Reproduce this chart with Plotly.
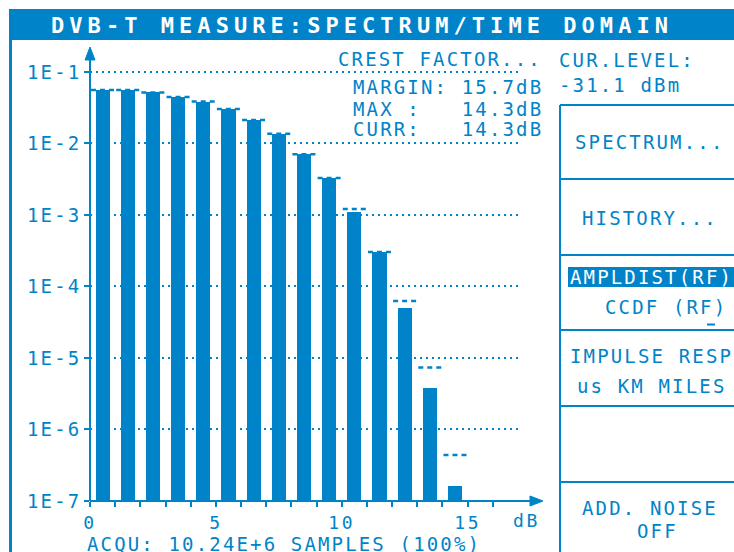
import math
import plotly.graph_objects as go

# ---- measurement data -------------------------------------------------------
# CCDF of the RF signal, one bin per dB of crest level (bin lower edge in dB)
bin_db = list(range(15))
ccdf_curr = [5.5e-2, 5.5e-2, 5.1e-2, 4.4e-2, 3.8e-2, 3.0e-2, 2.1e-2, 1.35e-2,
             7.0e-3, 3.25e-3, 1.1e-3, 3.0e-4, 5.0e-5, 3.8e-6, 1.6e-7]
# max-hold level per bin
ccdf_max = [5.5e-2, 5.5e-2, 5.1e-2, 4.4e-2, 3.8e-2, 3.0e-2, 2.1e-2, 1.35e-2,
            7.0e-3, 3.25e-3, 1.2e-3, 3.0e-4, 6.2e-5, 7.3e-6, 4.4e-7]

decade_vals = [1e-7, 1e-6, 1e-5, 1e-4, 1e-3, 1e-2, 1e-1]
decade_labels = ["1E-7", "1E-6", "1E-5", "1E-4", "1E-3", "1E-2", "1E-1"]
x_tick_vals = list(range(17))
x_tick_labels = {0: "0", 5: "5", 10: "10", 15: "15"}

margin_db = 15.7
max_db = 14.3
curr_db = 14.3
cur_level_dbm = -31.1
samples = "10.24E+6"
acq_pct = 100

# ---- screen geometry (pixels) ----------------------------------------------
FIG_W, FIG_H = 734, 552
L, R, T, B = 90, 518, 48, 501
PW, PH = R - L, B - T
DECADE_PX = 71.58
Y_TOP = -7 + PH / DECADE_PX

BLUE = "#0083C8"
FONT = "DejaVu Sans Mono"


def px(x):
    return (x - L) / PW


def py(y):
    return (B - y) / PH


fig = go.Figure()

# CCDF bars
fig.add_trace(go.Bar(
    x=[b + 0.5 for b in bin_db], y=ccdf_curr, width=0.56,
    marker=dict(color=BLUE, line=dict(width=0)),
    showlegend=False, hoverinfo="skip",
))

# max-hold markers ("- - -") above each bin
half = 0.46
for b, m in zip(bin_db, ccdf_max):
    c = b + 0.5
    fig.add_trace(go.Scatter(
        x=[c - half, c + half], y=[m, m], mode="lines",
        line=dict(color=BLUE, width=2.5, dash="5px,4px"),
        showlegend=False, hoverinfo="skip",
    ))

shapes = []


def rect(x0, y0, x1, y1):
    shapes.append(dict(type="rect", xref="paper", yref="paper",
                       x0=px(x0), x1=px(x1), y0=py(y1), y1=py(y0),
                       fillcolor=BLUE, line=dict(width=0), layer="above"))


def seg(x0, y0, x1, y1, w=2):
    shapes.append(dict(type="line", xref="paper", yref="paper",
                       x0=px(x0), x1=px(x1), y0=py(y0), y1=py(y1),
                       line=dict(color=BLUE, width=w), layer="above"))


def tri(pts):
    d = "M " + " L ".join(f"{px(a):.5f},{py(b):.5f}" for a, b in pts) + " Z"
    shapes.append(dict(type="path", xref="paper", yref="paper", path=d,
                       fillcolor=BLUE, line=dict(color=BLUE, width=1),
                       layer="above"))


# frame and title bar
rect(9, 9, 740, 40)
rect(9, 40, 12, 560)

# axes with arrow heads
seg(L, B, L, 58)
tri([(L, 47), (L - 5, 60), (L + 5, 60)])
seg(L, B, 532, B)
tri([(543, B), (530, B - 5), (530, B + 5)])

# soft-key panel
seg(560, 105, 560, 560)
for yy in [105, 179, 255, 330, 406, 482]:
    seg(560, yy, 740, yy)
rect(568, 267, 740, 287)
seg(707, 324.5, 715, 324.5)

NB = "\u00a0"
texts = [
    ("DVB-T MEASURE:SPECTRUM/TIME DOMAIN", 51, 25.5, 22, "white", "bold"),
    ("CREST FACTOR...", 338, 59, 19, BLUE, "normal"),
    (f"MARGIN:{NB}{margin_db:.1f}dB", 353, 86.5, 19, BLUE, "normal"),
    (f"MAX{NB}:{NB*3}{max_db:.1f}dB", 353, 108.5, 19, BLUE, "normal"),
    (f"CURR:{NB*3}{curr_db:.1f}dB", 353, 128.5, 19, BLUE, "normal"),
    ("CUR.LEVEL:", 559, 60, 19, BLUE, "normal"),
    (f"{cur_level_dbm:.1f}{NB}dBm", 559, 85, 19, BLUE, "normal"),
    ("SPECTRUM...", 575, 142, 19, BLUE, "normal"),
    ("HISTORY...", 582, 217.5, 19, BLUE, "normal"),
    ("AMPLDIST(RF)", 570, 277, 19, "white", "normal"),
    (f"CCDF{NB}(RF)", 605, 307.5, 19, BLUE, "normal"),
    (f"IMPULSE{NB}RESP", 570, 356, 19, BLUE, "normal"),
    (f"us{NB}KM{NB}MILES", 577, 386, 19, BLUE, "normal"),
    (f"ADD.{NB}NOISE", 582, 508, 19, BLUE, "normal"),
    ("OFF", 637, 531, 19, BLUE, "normal"),
    ("dB", 513, 520, 18, BLUE, "normal"),
    (f"ACQU:{NB}{samples}{NB}SAMPLES{NB}({acq_pct}%)", 87, 543.5, 19, BLUE, "normal"),
]

annotations = []
for s, x, y, size, col, weight in texts:
    annotations.append(dict(
        text=s, xref="paper", yref="paper", x=px(x), y=py(y),
        xanchor="left", yanchor="middle", align="left", showarrow=False,
        borderpad=0, borderwidth=0,
        font=dict(family=FONT, size=size, color=col, weight=weight),
    ))

# decade labels on the log axis (annotation y is given in log10 units)
for v, lab in zip(decade_vals, decade_labels):
    annotations.append(dict(
        text=lab, xref="paper", yref="y", x=px(27), y=math.log10(v),
        xanchor="left", yanchor="middle", align="left", showarrow=False,
        borderpad=0, borderwidth=0,
        font=dict(family=FONT, size=19, color=BLUE),
    ))

fig.update_layout(
    width=FIG_W, height=FIG_H, autosize=False,
    margin=dict(l=L, r=FIG_W - R, t=T, b=FIG_H - B, pad=0),
    paper_bgcolor="white", plot_bgcolor="white",
    font=dict(family=FONT, color=BLUE, size=18),
    showlegend=False, bargap=0,
    shapes=shapes, annotations=annotations,
    xaxis=dict(
        range=[0, 17], tickmode="array", tickvals=x_tick_vals,
        ticktext=[x_tick_labels.get(v, "") for v in x_tick_vals],
        ticks="outside", ticklen=5, tickwidth=2, tickcolor=BLUE,
        showgrid=False, zeroline=False, showline=False,
        tickfont=dict(family=FONT, size=18, color=BLUE), fixedrange=True,
    ),
    yaxis=dict(
        type="log", range=[-7, Y_TOP], tickmode="array",
        tickvals=decade_vals, showticklabels=False,
        ticks="outside", ticklen=5, tickwidth=2, tickcolor=BLUE,
        showgrid=True, gridcolor=BLUE, gridwidth=2, griddash="2px,4px",
        zeroline=False, showline=False, fixedrange=True,
    ),
)

# pixel-font style character pitch for the instrument display text
post = """
var gd = document.getElementById('{plot_id}');
var pitch = {'22px': 5.05, '19px': 2.15, '18px': 2.65};
function track() {
  gd.querySelectorAll('text').forEach(function (t) {
    var g = pitch[t.style.fontSize];
    if (g !== undefined) { t.style.letterSpacing = g + 'px'; }
  });
}
track();
gd.on('plotly_afterplot', track);
"""

fig.write_html("out.html", post_script=post, config={"displayModeBar": False})
